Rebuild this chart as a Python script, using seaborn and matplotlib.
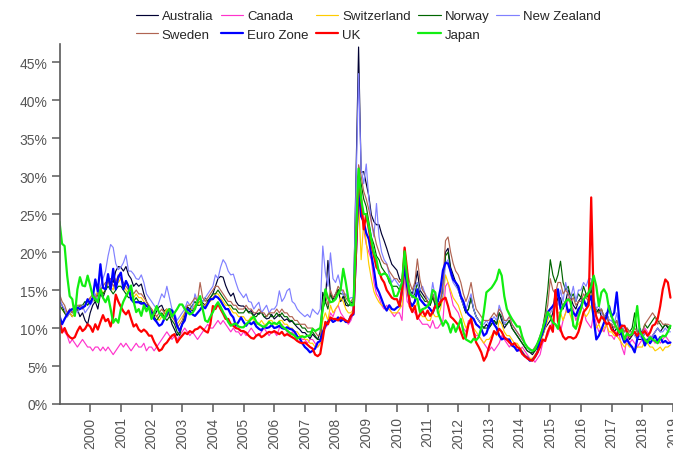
import numpy as np
import pandas as pd
import matplotlib
matplotlib.use("Agg")
import matplotlib.pyplot as plt
from matplotlib.ticker import FuncFormatter
import seaborn as sns

START_YEAR = 1999

# Monthly implied volatility (%), Jan 1999 - Dec 2018, one row per year
australia = [
    13.5, 13, 12, 11.5, 12, 11.5, 12, 12.5, 11.5, 12, 11, 10.5,
    12, 13, 13.5, 12.5, 14.5, 14, 15, 16, 16.5, 16, 17.5, 18.1,
    18, 17.5, 18.1, 17, 16.5, 15.5, 15.9, 15.5, 15.8, 14.5, 13.5, 12.8,
    12.5, 11.5, 12.2, 12.8, 13, 12.2, 12.5, 11.8, 10.5, 9.8, 9, 9.5,
    10.5, 11.5, 12.8, 12.5, 12.3, 13, 13.2, 13.5, 13.3, 13, 13.6, 14,
    14.5, 15.5, 16.5, 16.8, 16.7, 15.6, 14.8, 14.2, 14.6, 13.5, 13, 12.9,
    12.9, 12.5, 12.1, 12.3, 11.6, 12, 11.8, 12.2, 11.5, 11.2, 11.3, 11.8,
    11.2, 11.5, 11.8, 11.4, 11, 11.2, 10.8, 10.9, 10.5, 10.1, 9.8, 9.4,
    9.4, 9, 8.6, 9.2, 8.8, 8.5, 9.5, 14.7, 13.5, 18.9, 14.5, 13.8,
    14.5, 15.1, 13.5, 14.2, 13, 12.9, 13.4, 13.4, 30, 47, 30.5, 30.6,
    29, 27.4, 24.9, 24, 23.6, 23.6, 22.4, 21.5, 20.5, 19.4, 18.4, 18,
    17.6, 16.5, 16, 20.5, 16.5, 15, 14.5, 15.5, 17.5, 15, 14.5, 14,
    13.5, 13, 14.5, 13, 12.5, 13.5, 15, 20, 20.5, 18, 17, 16,
    15.5, 14, 13, 12, 12.5, 14, 12.5, 11.5, 11, 10.5, 10, 10.5,
    10, 10.5, 11, 10.5, 12, 11, 10, 10.5, 11, 10, 9.5, 9,
    8.5, 8, 7.5, 7, 6.8, 6.5, 7, 7.5, 8.5, 9, 10, 10.5,
    11, 12, 15, 13.5, 14, 12.5, 13.5, 15, 14, 13, 12.5, 13.5,
    14, 13.5, 14.5, 14, 16, 13, 12, 12.5, 11.5, 11, 12, 10.5,
    10.5, 9.5, 10, 9, 9.5, 8.5, 9, 8.5, 9, 9.5, 8.5, 8.5,
    8.5, 9.5, 9, 8.5, 9, 9.5, 10, 9.5, 10, 10.5, 10, 10,
]

canada = [
    11, 10, 9.5, 9, 8, 8.5, 8, 7.5, 8, 8.5, 8, 7.5,
    7.5, 7, 7.5, 7.5, 7, 7.5, 7, 7.5, 7, 6.5, 7, 7.5,
    8, 7.5, 8, 7.5, 7, 7.5, 8, 7.5, 7.5, 8, 7, 7.5,
    7.5, 7, 7.5, 8, 8.5, 9, 9.5, 9, 8.5, 9, 8.5, 9,
    9.5, 10, 9.5, 9, 9.5, 9, 8.5, 9, 9.5, 10, 10.5, 10,
    10, 10.5, 11, 10.5, 11, 10.5, 10, 9.5, 10, 9.5, 9.5, 9,
    9.5, 9, 9.5, 10, 9.5, 9, 9, 9.5, 10, 9.5, 9, 9.5,
    9.5, 9, 10, 10.5, 10, 9.5, 9, 9.5, 9, 8.5, 9, 8.5,
    8.5, 8, 8.5, 8.5, 8, 7.5, 8, 9.5, 10, 10.5, 12, 11.5,
    12.5, 13, 12, 11.5, 11, 10.5, 11, 12, 20, 29, 27, 23,
    21, 20, 19, 16, 14.5, 14, 13, 12.5, 13, 12.5, 12, 11.5,
    12, 12, 11, 17, 13.5, 13, 12.5, 12, 11.5, 11, 10.5, 10.5,
    10.5, 10, 11, 10, 10, 10.5, 11, 15.5, 16, 14.5, 13, 12.5,
    12, 11, 10, 9.5, 11, 10.5, 9.5, 9, 9, 8.5, 8, 7.5,
    7, 7.5, 7, 7.5, 8, 9, 8.5, 8, 7.5, 8, 7.5, 7,
    7, 7.5, 7, 6.5, 6, 6, 5.5, 6, 6.5, 8, 8.5, 9,
    10, 11, 10.5, 10, 9.5, 11, 12, 14, 13, 12.5, 11, 12,
    13, 12.5, 11, 10.5, 10, 12, 10.5, 9.5, 10, 9.5, 10.5, 9,
    9, 8.5, 9.5, 9, 7.5, 6.5, 9, 8, 8.5, 8, 7.5, 8,
    8.5, 10, 9.5, 9, 8.5, 8, 8.5, 8, 8.5, 9, 8.5, 8,
]

switzerland = [
    13, 12.5, 12, 11.5, 12, 11.5, 12, 12.5, 12.5, 13, 13, 13.5,
    14, 13.5, 14, 15, 15.5, 14.5, 15, 16, 15.5, 15, 16.5, 16,
    16.5, 15.5, 15, 14.5, 14.5, 14, 14.5, 14, 14, 13.5, 13, 12.5,
    12.5, 12, 11.5, 11, 11.5, 12, 12.5, 12, 11.5, 11, 10.5, 11,
    11.5, 12, 12.5, 12.5, 12.5, 13, 13, 13.5, 13, 13, 13.5, 13.5,
    14, 14.5, 14.5, 14, 13.5, 13, 13, 12.5, 12, 12, 11.5, 11.5,
    11.5, 11, 11, 11.5, 11, 10.5, 10.5, 11, 10.5, 10.5, 11, 11,
    10.5, 10.5, 11, 11, 10.5, 10.5, 10, 10, 9.5, 9.5, 9, 9,
    8.5, 8.5, 8, 8, 7.5, 7.5, 8, 11, 12, 11, 13, 12,
    12.5, 13, 14, 13.5, 12.5, 12, 12, 12.5, 20, 27, 19, 24,
    21.3, 18.4, 16.5, 14.8, 14, 13.4, 13, 13, 12.5, 12.5, 12, 12,
    12, 12.5, 13, 18, 14.5, 13.5, 12.5, 12.5, 13.5, 12, 11.5, 11.5,
    11, 11, 12, 11.5, 11.5, 12.5, 14, 17, 16, 15, 14, 13.5,
    13, 12, 11, 10, 10.5, 11.5, 10, 9.5, 9, 8.5, 8, 8.5,
    8.5, 9, 9.5, 9, 11, 10.5, 9.5, 9, 9, 8.5, 8, 8,
    7.5, 7, 6.5, 6.2, 6, 6, 6.5, 7, 8, 9, 10, 11,
    12, 12.5, 13, 12, 12, 11, 12, 12.5, 11.5, 10.5, 10, 10.5,
    11, 12, 11.5, 12, 13, 11, 10, 10.5, 9.5, 10, 10.5, 9.5,
    9.5, 9, 9, 8.5, 8, 7.5, 8, 7.5, 7.5, 7, 7.5, 7.5,
    7.5, 8.5, 8, 7.5, 7.5, 7, 7.2, 7.5, 7, 7.5, 7.5, 7.8,
]

norway = [
    13, 12.5, 12, 11.5, 12.5, 12, 12.5, 12.5, 13, 13, 13.5, 13,
    13.5, 14, 13.5, 14.5, 15, 14.5, 15, 15.5, 15, 14.5, 15, 15.5,
    15.5, 15, 14.5, 14, 14, 13.5, 14, 13.5, 13.5, 13, 12.5, 12.5,
    12, 11.5, 11, 11.5, 12, 11.5, 11, 11.5, 11, 10.5, 9.5, 9,
    10.5, 11.5, 12.5, 12.5, 13, 13.5, 13, 13, 13.5, 14, 13.5, 14,
    14.5, 14.5, 15, 14.5, 14, 13.5, 13, 13, 12.5, 12.5, 12, 12,
    12, 12.5, 12, 12, 11.5, 11.5, 12, 12, 11.5, 11.5, 12, 11.5,
    11.5, 12, 11.5, 12, 11.5, 11.5, 11, 11, 10.5, 10.5, 10.5, 10,
    10, 9.5, 9.5, 9.5, 9, 8.5, 8.5, 12.5, 13.5, 12.5, 14.5, 13.5,
    14, 15, 14.5, 14.5, 13.5, 13, 13, 13.5, 22, 31, 29, 27,
    26, 24, 22, 21, 19.5, 19, 18, 17.5, 17, 16, 15.5, 15.5,
    15.5, 15, 15.5, 20, 16.5, 15, 14, 14.5, 16, 14.5, 14, 13.5,
    13.5, 13, 14, 13, 12.5, 13, 15, 19.5, 20, 17.5, 16.5, 16,
    15, 14, 13, 12, 12.5, 14, 12.5, 11.5, 11, 10.5, 10, 10,
    10, 10.5, 11, 10.5, 12, 11.5, 10.5, 10.5, 11, 10, 9.5, 9,
    8.5, 8, 7.5, 7, 6.8, 6.8, 7, 7.5, 8.5, 10, 12, 15,
    19, 17, 16, 17, 18.8, 16, 15, 15.5, 14, 14.5, 13.5, 14.5,
    14, 15.5, 14.5, 14, 15, 13.5, 12.5, 12, 12.5, 11.5, 12, 11,
    11, 10.5, 11, 10, 10, 9.5, 10, 9.5, 10, 12, 9.5, 9.5,
    9.5, 10.5, 10, 10.5, 11, 11.5, 11, 10.5, 10, 10.5, 10.2, 10,
]

new_zealand = [
    14, 13, 12.5, 11.5, 12, 12.5, 13, 12, 12.5, 13, 12, 12.5,
    13, 13.5, 14.5, 13.5, 15.5, 16.5, 17.5, 19.5, 21, 20.6, 18.5, 17.7,
    18, 18.6, 19.6, 17.5, 17.5, 17.1, 16.5, 16.4, 17, 16, 14.5, 14,
    13.5, 13, 12.5, 13.5, 14.5, 14, 15.5, 14, 12.5, 12, 11, 11.5,
    12, 12.5, 13.5, 13, 12.5, 14.5, 13.5, 14, 13.5, 14, 14.5, 15,
    15.5, 17, 16.5, 18, 19, 18.5, 17.5, 17, 17.1, 16, 15, 14.5,
    14, 14.5, 13.5, 13.4, 12.5, 13, 13.4, 12, 12.5, 13, 12, 12.5,
    12.5, 13, 14.9, 13.5, 14, 14.9, 15.2, 13.5, 13.2, 12.5, 12.1, 11.8,
    11.5, 11.8, 11.4, 12.5, 12.1, 11.8, 12.5, 20.8, 17.3, 15.5, 19.9, 16.5,
    16, 17, 15.5, 14.3, 14.5, 13.8, 14, 14, 29, 43.5, 31, 29,
    31.6, 27, 24, 22, 26.4, 22, 20, 19, 18.5, 17, 16, 16.5,
    16, 15.5, 16, 20, 17, 15, 14, 15.5, 16, 15, 15.5, 14.5,
    14, 13.5, 16, 14, 13, 13.5, 14.5, 18.5, 19, 17, 16, 15.5,
    15, 14, 13, 12.5, 13.5, 14.5, 12.5, 11.5, 11, 10.5, 10.5, 11,
    10.5, 11, 11.5, 11, 13, 12, 10.5, 11, 11.5, 10.5, 10, 9.5,
    9, 8.5, 8, 7.5, 7, 7, 7.5, 8, 9, 9.5, 10.5, 11.5,
    12, 12.5, 14, 13, 15, 13.5, 16, 14.5, 14, 15.5, 13.5, 15,
    15, 16, 15.5, 16.5, 16.5, 14, 12.5, 13, 12, 11.5, 12, 11,
    11, 10.5, 12, 10, 10.5, 9.5, 9.5, 9, 9.5, 9, 8.5, 9,
    8.5, 9.5, 9, 8.5, 9, 9.5, 10, 9.5, 9.5, 10, 9.5, 9.5,
]

sweden = [
    14.5, 13.5, 13, 12, 12.5, 12, 12.5, 13, 13, 12.5, 13, 13.5,
    14, 14.5, 14, 14.5, 15, 15.5, 16, 16, 16.5, 15.5, 16, 17,
    16.5, 16, 15.5, 15, 15, 14.5, 15, 14.5, 14.5, 14, 13.5, 13,
    12.5, 12, 11.5, 12, 12.5, 12, 11.5, 12, 11.5, 11, 10, 10.5,
    11, 12, 13, 13, 13.5, 14, 13.5, 16, 14, 13.5, 14, 14.5,
    15, 15.5, 15.5, 15, 14.5, 14, 13.5, 13.5, 13, 13, 12.5, 12.5,
    12.5, 13, 12.5, 12.5, 12, 12, 12.5, 12, 12, 11.5, 12, 12,
    12, 12.5, 12, 12.5, 12, 12, 11.5, 11.5, 11, 11, 10.5, 10.5,
    10.5, 10, 10, 10, 9.5, 9, 9, 13, 14.5, 13, 15, 14,
    14.5, 15.5, 15, 15, 14, 13.5, 13.5, 14, 22, 31.5, 30, 28,
    27, 25.6, 24, 22.5, 21, 20, 19, 18.5, 18.4, 17.5, 17, 16.5,
    16.5, 16, 16.5, 20, 17.5, 16, 15, 16, 19.1, 16.4, 15, 14.5,
    13.3, 13.5, 14.5, 13.5, 13, 13.5, 16, 21.5, 22, 20, 18.5, 17.5,
    17, 16, 14.5, 13.5, 14.5, 16, 14, 12.5, 12, 11.5, 11, 11,
    11, 11.5, 12, 11.5, 12.5, 12, 11, 11, 11.5, 10.5, 10, 9.5,
    9, 8.5, 8, 7.5, 7.2, 7, 7.5, 8, 9, 10, 11.5, 13,
    16.5, 15, 14.5, 16, 16, 14.5, 15, 14.5, 13.5, 14, 13, 13.5,
    13.5, 14.5, 14, 13.5, 14.5, 13, 12, 12, 12.5, 11.5, 11.5, 10.5,
    10.5, 10, 11, 9.5, 10, 9.5, 10, 9.5, 9.5, 10, 9.5, 9.5,
    9.5, 10.5, 11, 11.5, 12, 11.5, 10.5, 11, 10.5, 10.5, 10.5, 10.3,
]

euro_zone = [
    11.6, 10.5, 11.2, 11.8, 12.3, 12.5, 12.3, 12.7, 12.5, 12.7, 12.9, 13.8,
    13.2, 14.0, 16.4, 14.8, 18.4, 15.3, 15.1, 17.1, 15.1, 17.8, 15.1, 16.7,
    17.3, 15.1, 16.2, 15.5, 13.8, 13.4, 13.4, 13.4, 13.2, 13.3, 12.9, 12.7,
    12.0, 11.2, 10.8, 10.3, 10.5, 11.2, 11.8, 12.5, 12.3, 11.6, 10.3, 9.6,
    10.5, 11.0, 12.5, 12.2, 11.8, 11.6, 12.0, 12.4, 12.9, 12.6, 13.2, 13.8,
    13.8, 14.2, 14.0, 13.6, 13.0, 12.5, 12.5, 11.8, 11.4, 10.3, 10.8, 11.4,
    10.8, 10.3, 10.8, 10.5, 10.8, 10.2, 9.9, 9.7, 10.2, 10.0, 10.1, 10.4,
    10.0, 10.1, 10.3, 10.0, 9.9, 10.1, 9.9, 9.8, 9.5, 8.9, 8.6, 8.0,
    7.5, 7.2, 6.8, 7.0, 7.3, 8.1, 8.3, 9.5, 10.3, 10.8, 11.2, 10.8,
    11.0, 11.4, 10.9, 11.2, 10.8, 10.8, 11.6, 11.8, 20, 28.3, 24.7, 24,
    22.5, 21.7, 19.6, 17.7, 15.4, 14.7, 13.8, 12.9, 12.3, 13.0, 12.5, 12.4,
    12.7, 12.9, 15.0, 18.2, 15.5, 13.5, 12.9, 13.5, 15.1, 13.8, 13.4, 13.0,
    12.9, 12.5, 12.0, 12.9, 13.5, 15.1, 17.6, 18.6, 18.5, 17.5, 16.4, 16.0,
    15.5, 14.2, 13.5, 12.3, 11.8, 11.5, 11.2, 10.5, 10.2, 9.9, 9.0, 9.3,
    10.3, 11.2, 10.5, 10.0, 9.0, 8.5, 8.7, 8.5, 8.5, 7.7, 7.5, 7.0,
    7.2, 6.8, 6.3, 6.1, 5.7, 5.8, 6.2, 6.8, 8.5, 9.4, 10.5, 12.1,
    12.5, 12.9, 13.5, 15.1, 12.5, 12.8, 13.4, 12.1, 12.5, 12.0, 11.6, 12.5,
    12.9, 13.8, 12.9, 13.5, 14.2, 11.2, 8.5, 9.0, 9.8, 10.7, 11.5, 12.9,
    11.5, 12.0, 14.7, 11.0, 9.0, 8.1, 8.5, 7.9, 7.5, 6.8, 8.5, 9.9,
    8.8, 7.7, 8.5, 8.0, 8.5, 9.0, 8.2, 8.8, 8.1, 8.3, 8.0, 8.1,
]

uk = [
    10.8, 9.4, 10.0, 9.2, 8.8, 8.6, 8.8, 9.6, 10.2, 9.6, 9.9, 10.5,
    10.2, 9.5, 10.5, 9.8, 10.8, 11.7, 10.9, 11.2, 10.2, 11.5, 14.4, 13.5,
    12.8, 12.2, 11.8, 12.3, 11.2, 10.2, 10.5, 9.8, 9.5, 9.8, 9.5, 9.0,
    9.0, 8.2, 7.6, 7.0, 7.2, 7.8, 8.1, 8.6, 9.0, 9.2, 8.1, 8.6,
    9.0, 9.4, 9.2, 9.6, 9.4, 9.8, 9.9, 10.2, 9.9, 9.6, 9.4, 10.5,
    12.9, 12.5, 13.2, 12.5, 11.9, 11.2, 11.2, 10.5, 10.3, 10.0, 9.9, 9.6,
    9.6, 9.4, 9.0, 8.7, 8.6, 9.0, 9.2, 8.8, 9.0, 9.3, 9.5, 9.4,
    9.6, 9.4, 9.2, 9.5, 9.0, 9.2, 9.0, 8.8, 8.6, 8.3, 8.1, 8.0,
    8.1, 7.8, 7.5, 7.3, 6.5, 6.3, 6.6, 8.6, 10.8, 10.5, 11.4, 11.2,
    11.2, 11.0, 11.4, 11.2, 11.0, 10.8, 11.6, 12.0, 20, 30, 27, 23,
    25, 23, 21, 19.5, 18, 17.5, 16.5, 16, 15, 14.5, 14, 13.8,
    13.8, 12.9, 15.1, 20.6, 17.6, 12.9, 12.1, 12.9, 11.2, 11.8, 12.3, 11.6,
    12.3, 11.6, 12.1, 12.9, 13.0, 13.4, 13.8, 14.0, 12.9, 11.5, 11.2, 10.8,
    10.4, 9.5, 8.6, 8.8, 10.5, 11.2, 9.5, 8.1, 7.5, 6.8, 5.7, 6.3,
    7.5, 8.5, 9.6, 9.2, 9.9, 9.5, 8.8, 8.5, 8.1, 7.8, 8.0, 7.5,
    7.3, 6.6, 6.3, 6.0, 5.8, 5.7, 6.2, 6.8, 7.5, 8.5, 8.3, 9.5,
    10.3, 9.5, 15.0, 10.9, 9.8, 8.9, 8.5, 8.8, 8.8, 8.6, 8.8, 9.5,
    10.7, 12.1, 12.5, 13.0, 27.2, 12.9, 11.5, 10.7, 11.5, 11.2, 10.5, 10.7,
    9.8, 9.5, 9.0, 9.8, 10.3, 10.3, 9.5, 8.9, 9.2, 9.5, 9.0, 9.5,
    9.3, 9.6, 9.0, 9.4, 10.3, 10.5, 11.2, 12.9, 15.1, 16.4, 16.0, 14.0,
]

japan = [
    24, 21.1, 20.8, 16.9, 14.2, 13.8, 11.6, 15.1, 16.7, 15.6, 15.5, 16.9,
    15.6, 14.2, 13.8, 13.4, 15.1, 14.0, 13.4, 14.2, 12.5, 10.7, 11.2, 10.7,
    12.5, 13.5, 14.2, 14.8, 15.6, 13.5, 12.1, 12.5, 11.6, 13.0, 12.2, 12.8,
    11.2, 12.0, 12.9, 12.0, 11.7, 11.2, 12.1, 12.5, 11.5, 12.0, 12.5, 13.1,
    13.1, 12.5, 12.1, 11.8, 12.0, 12.5, 13.5, 14.2, 12.5, 11.0, 10.8, 11.5,
    12.1, 12.9, 13.4, 12.8, 12.1, 11.5, 10.8, 10.3, 10.5, 10.6, 10.2, 10.1,
    10.1, 10.5, 10.8, 11.2, 11.5, 10.8, 10.5, 10.3, 10.1, 10.4, 10.8, 10.5,
    10.7, 10.5, 10.8, 10.2, 10.0, 9.7, 9.4, 9.2, 9.0, 8.6, 8.8, 8.9,
    8.8, 9.0, 9.0, 9.9, 9.6, 9.8, 10.0, 12.5, 15.1, 14.0, 13.4, 13.5,
    13.8, 14.5, 15.1, 17.8, 16.0, 13.8, 13.0, 13.0, 22, 31, 27, 25,
    25, 23.4, 21.6, 19.9, 19.0, 17.2, 17.0, 17.2, 17.0, 16.4, 15.5, 14.2,
    14.2, 15.0, 16.0, 20.1, 16.5, 14.5, 14.2, 14.0, 13.8, 12.1, 12.5, 12.6,
    12.9, 13.5, 15.0, 14.7, 12.1, 11.2, 10.3, 11.0, 10.5, 9.4, 10.5, 9.5,
    10.3, 11.2, 9.5, 8.5, 8.3, 8.1, 8.6, 8.4, 8.8, 10.0, 12.1, 14.7,
    15.0, 15.3, 15.8, 16.4, 17.7, 16.9, 14.2, 12.5, 11.8, 11.2, 10.7, 10.2,
    10.2, 8.9, 8.0, 7.5, 7.2, 7.0, 7.2, 8.0, 8.8, 9.9, 11.0, 12.1,
    11.5, 10.7, 10.5, 9.9, 12.1, 12.9, 13.5, 13.8, 13.4, 10.3, 9.9, 11.5,
    12.5, 13.8, 14.2, 14.7, 15.5, 16.9, 15.5, 12.9, 14.7, 15.1, 14.5, 12.5,
    11.5, 10.7, 10.0, 9.4, 9.8, 8.5, 9.3, 9.0, 9.2, 10.3, 12.9, 9.5,
    9.0, 8.5, 8.1, 8.8, 8.5, 8.3, 8.0, 8.6, 9.0, 8.9, 9.5, 10.3,
]

series = {
    "Australia": australia,
    "Canada": canada,
    "Switzerland": switzerland,
    "Norway": norway,
    "New Zealand": new_zealand,
    "Sweden": sweden,
    "Euro Zone": euro_zone,
    "UK": uk,
    "Japan": japan,
}

colors = {
    "Australia": "#000033",
    "Canada": "#ff33cc",
    "Switzerland": "#ffcc00",
    "Norway": "#006600",
    "New Zealand": "#8080ff",
    "Sweden": "#b06452",
    "Euro Zone": "#0000ff",
    "UK": "#ff0000",
    "Japan": "#11ee11",
}
widths = {
    "Australia": 0.85, "Canada": 0.85, "Switzerland": 0.85, "Norway": 0.85,
    "New Zealand": 0.85, "Sweden": 0.85,
    "Euro Zone": 1.6, "UK": 1.6, "Japan": 1.6,
}

frames = []
for name, vals in series.items():
    vals = np.asarray(vals, dtype=float)
    frames.append(pd.DataFrame({
        "year": START_YEAR + np.arange(len(vals)) / 12.0,
        "vol": vals,
        "series": name,
    }))
df = pd.concat(frames, ignore_index=True)

sns.set_style("ticks")
plt.rcParams["font.family"] = ["Liberation Sans", "DejaVu Sans"]

fig = plt.figure(figsize=(6.73, 4.56), dpi=100)
ax = fig.add_axes([59.5 / 673, 1 - 405 / 456, 1 - 59.5 / 673, (405 - 45) / 456])

handles = {}
for name in series:
    sub = df[df["series"] == name]
    sns.lineplot(data=sub, x="year", y="vol", color=colors[name],
                 linewidth=widths[name], estimator=None, sort=False,
                 legend=False, ax=ax)
    handles[name] = ax.lines[-1]

ax.set_xlim(1999, 2019)
ax.set_ylim(0, 47.4)
ax.set_xticks(range(2000, 2020))
ax.set_yticks(range(0, 50, 5))
ax.yaxis.set_major_formatter(FuncFormatter(lambda v, p: f"{v:.0f}%"))
ax.set_xlabel("")
ax.set_ylabel("")
plt.setp(ax.get_xticklabels(), rotation=90)

axis_grey = "#5a5a5a"
for side in ("top", "right"):
    ax.spines[side].set_visible(False)
for side in ("left", "bottom"):
    ax.spines[side].set_color(axis_grey)
    ax.spines[side].set_linewidth(1.2)
ax.tick_params(axis="x", direction="out", length=6, width=1.1, color=axis_grey,
               labelcolor="#555555", labelsize=10, pad=3)
ax.tick_params(axis="y", direction="out", length=5.5, width=1.1, color=axis_grey,
               labelcolor="#555555", labelsize=10, pad=3)

order = ["Australia", "Sweden", "Canada", "Euro Zone", "Switzerland", "UK",
         "Norway", "Japan", "New Zealand"]
fig.legend([handles[n] for n in order], order, loc="upper center",
           bbox_to_anchor=(0.547, 0.993), ncol=5, frameon=False, fontsize=9.5,
           handlelength=1.7, handletextpad=0.3, columnspacing=0.55,
           labelspacing=0.45, borderaxespad=0.2)

fig.savefig("out.png", dpi=100)
